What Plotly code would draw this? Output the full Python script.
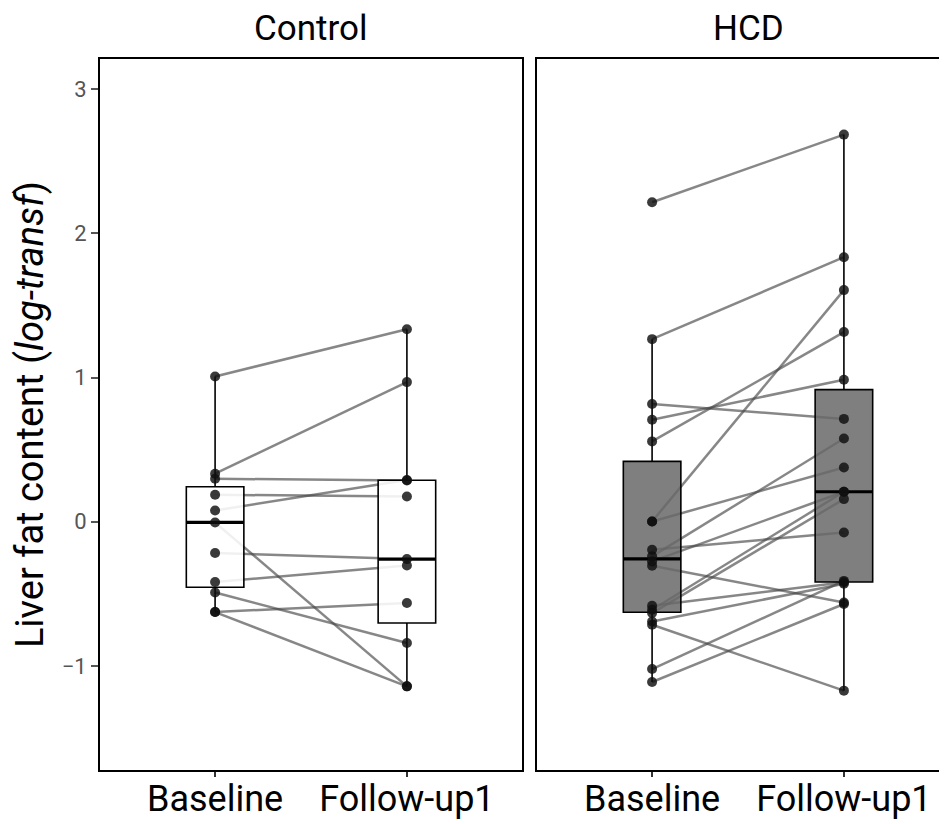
import numpy as np
import plotly.graph_objects as go

groups = ["Control", "HCD"]
timepoints = ["Baseline", "Follow-up1"]
y_ticks = [-1, 0, 1, 2, 3]

# paired values (same index = same subject)
control_baseline = [1.007, 0.333, 0.298, 0.187, 0.078, -0.005, -0.217, -0.418, -0.490, -0.626, -0.626]
control_followup = [1.335, 0.968, 0.286, 0.175, 0.290, -1.141, -0.259, -0.303, -0.841, -0.563, -1.141]

hcd_baseline = [2.215, 1.266, 0.816, 0.707, 0.557, 0.002, 0.002, -0.194, -0.240, -0.275,
                -0.305, -0.582, -0.610, -0.633, -0.691, -0.714, -1.021, -1.111]
hcd_followup = [2.684, 1.834, 0.713, 0.984, 1.315, 1.606, 0.376, -0.074, 0.577, 0.208,
                -0.560, -0.420, 0.208, 0.157, -0.430, -1.171, -0.410, -0.570]

data = {
    "Control": (control_baseline, control_followup),
    "HCD": (hcd_baseline, hcd_followup),
}
box_fill = {"Control": "rgba(255,255,255,0.88)", "HCD": "rgba(105,105,105,0.85)"}

# page body has an 8px margin; compensate so the plot lands where the reference has it
OFF = 8
W, H = 947 - OFF, 824 - OFF
ml, mt, mb = 100 - OFF, 59 - OFF, 824 - 770
pw = W - ml
panel_px = 422
gap_px = 15
dom1 = [0, panel_px / pw]
dom2 = [(panel_px + gap_px) / pw, 1]
xr1 = [0.4, 2.6]
xr2 = [0.4, 0.4 + 2.2 * ((pw - panel_px - gap_px) / panel_px)]
yr = [-1.721, 3.208]


def box_stats(v):
    v = np.asarray(v, dtype=float)
    q1, med, q3 = np.percentile(v, [25, 50, 75])
    iqr = q3 - q1
    lo = v[v >= q1 - 1.5 * iqr].min()
    hi = v[v <= q3 + 1.5 * iqr].max()
    return q1, med, q3, lo, hi


fig = go.Figure()
shapes = []
bw = 0.3
for gi, g in enumerate(groups):
    xa = "x" if gi == 0 else "x2"
    ya = "y" if gi == 0 else "y2"
    base, fol = data[g]
    # connecting lines (drawn below the boxes)
    for b, f in zip(base, fol):
        shapes.append(dict(type="line", xref=xa, yref=ya, x0=1, x1=2, y0=b, y1=f,
                           line=dict(color="rgba(70,70,70,0.65)", width=2.5), layer="below"))
    for ti, vals in enumerate([base, fol]):
        pos = ti + 1
        q1, med, q3, lo, hi = box_stats(vals)
        fig.add_trace(go.Box(x=[pos], q1=[q1], median=[med], q3=[q3], lowerfence=[lo], upperfence=[hi],
                             width=bw, whiskerwidth=0, fillcolor=box_fill[g],
                             line=dict(color="black", width=1.6), xaxis=xa, yaxis=ya,
                             showlegend=False, hoverinfo="skip"))
        fig.add_trace(go.Scatter(x=[pos - bw / 2, pos + bw / 2], y=[med, med], mode="lines",
                                 line=dict(color="black", width=3.2), xaxis=xa, yaxis=ya,
                                 showlegend=False, hoverinfo="skip"))
    xs = [1] * len(base) + [2] * len(fol)
    ys = list(base) + list(fol)
    fig.add_trace(go.Scatter(x=xs, y=ys, mode="markers",
                             marker=dict(color="rgba(15,15,15,0.82)", size=10, line=dict(width=0)),
                             xaxis=xa, yaxis=ya, showlegend=False))

font = "Roboto, Arial, sans-serif"
xcommon = dict(tickvals=[1, 2], ticktext=timepoints, ticks="outside", ticklen=5, tickwidth=1.5,
               tickcolor="#333333", tickfont=dict(size=36, color="black", family=font),
               ticklabelstandoff=-9,
               showgrid=False, zeroline=False, showline=True, linecolor="black", linewidth=2,
               mirror=True, fixedrange=True, automargin=False)
fig.update_layout(
    width=W, height=H,
    margin=dict(l=ml, r=0, t=mt, b=mb),
    plot_bgcolor="white", paper_bgcolor="white",
    font=dict(family=font),
    xaxis=dict(domain=dom1, range=xr1, anchor="y", **xcommon),
    xaxis2=dict(domain=dom2, range=xr2, anchor="y2", **xcommon),
    yaxis=dict(domain=[0, 1], range=yr, tickvals=y_ticks, ticks="outside", ticklen=7, tickwidth=1.5,
               tickcolor="#555555", tickfont=dict(size=22, color="#555555", family=font),
               showgrid=False, zeroline=False, showline=True, linecolor="black", linewidth=2,
               mirror=True, anchor="x", automargin=False,
               title=dict(text="Liver fat content (<i>log-transf</i>)", standoff=10,
                          font=dict(size=38, color="black", family=font))),
    yaxis2=dict(domain=[0, 1], range=yr, showticklabels=False, ticks="", showgrid=False,
                zeroline=False, showline=True, linecolor="black", linewidth=2, mirror=False,
                anchor="x2", automargin=False),
    shapes=shapes,
)
for gi, g in enumerate(groups):
    xref = "x domain" if gi == 0 else "x2 domain"
    # strip label centered on a full-width panel
    cx = 0.5 if gi == 0 else 0.5 * panel_px / (pw - panel_px - gap_px)
    fig.add_annotation(text=g, x=cx, xref=xref, y=1, yref="paper", yanchor="bottom", yshift=8,
                       showarrow=False, font=dict(size=35, color="black", family=font))

fig.write_html("out.html")
